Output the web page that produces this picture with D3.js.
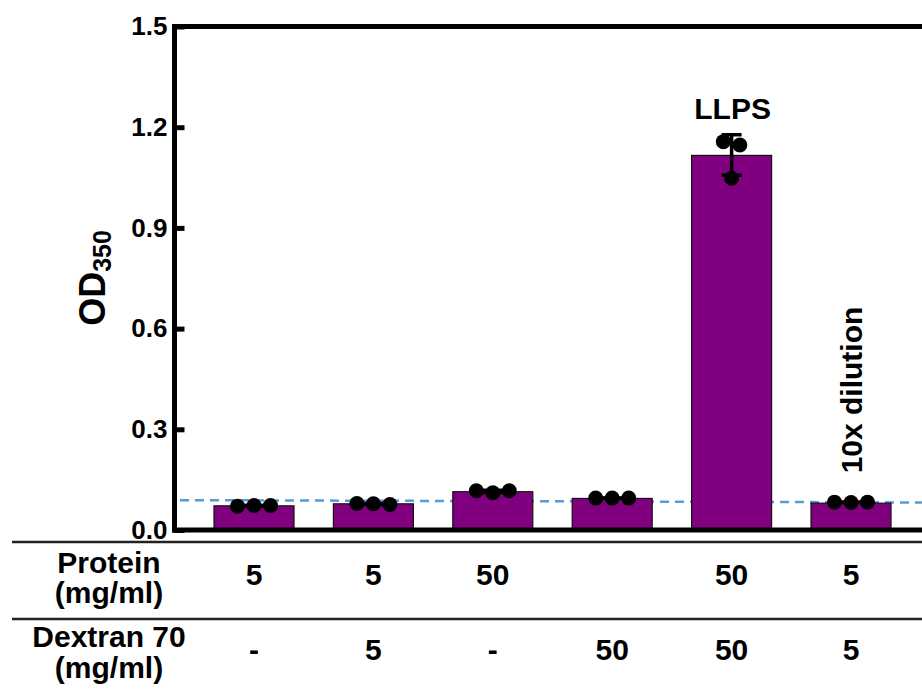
<!DOCTYPE html>
<html>
<head>
<meta charset="utf-8">
<script src="https://cdn.jsdelivr.net/npm/d3@7"></script>
<style>
  html, body { margin: 0; padding: 0; background: #fff; }
  svg { display: block; font-family: "Liberation Sans", Arial, Helvetica, sans-serif; font-weight: bold; }
</style>
</head>
<body>
<svg id="chart" width="922" height="691"></svg>
<script>
// ---- data ----
const categories = ["A", "B", "C", "D", "E", "F"];
const barMeans = [0.072, 0.078, 0.114, 0.094, 1.116, 0.080];
const replicates = [
  [0.071, 0.073, 0.073],
  [0.079, 0.078, 0.076],
  [0.117, 0.111, 0.117],
  [0.095, 0.095, 0.095],
  [1.157, 1.147, 1.048],
  [0.083, 0.082, 0.083]
];
const proteinLabels = ["5", "5", "50", "", "50", "5"];
const dextranLabels = ["-", "5", "-", "50", "50", "5"];
const yTicks = [0, 0.3, 0.6, 0.9, 1.2, 1.5];
const baselineEnds = [0.089, 0.082];
const annotations = [
  { cat: "E", text: "LLPS", rotate: false },
  { cat: "F", text: "10x dilution", rotate: true }
];

// ---- layout ----
const svg = d3.select("#chart");
const W = 922;
const y = d3.scaleLinear().domain([0, 1.5]).range([530, 26.5]);
const x = d3.scaleBand().domain(categories).range([194.3, 910.7]).paddingInner(0.33).paddingOuter(0.165);
const axisX = 174.5;
const frameW = 5;

// dashed baseline
svg.append("line")
  .attr("x1", 180).attr("x2", W)
  .attr("y1", y(baselineEnds[0])).attr("y2", y(baselineEnds[1]))
  .attr("stroke", "#5b9bd5").attr("stroke-width", 2.5)
  .attr("stroke-dasharray", "9,6");

// bars
svg.append("g").selectAll("rect").data(categories).join("rect")
  .attr("x", d => x(d))
  .attr("width", x.bandwidth())
  .attr("y", (d, i) => y(barMeans[i]))
  .attr("height", (d, i) => y(0) - y(barMeans[i]))
  .attr("fill", "#800080")
  .attr("stroke", "#111")
  .attr("stroke-width", 1.2);

// error bars (mean ± SD)
const eg = svg.append("g");
categories.forEach((c, i) => {
  const vals = replicates[i];
  const m = d3.mean(vals), s = d3.deviation(vals);
  const cx = x(c) + x.bandwidth() / 2;
  eg.append("line").attr("x1", cx).attr("x2", cx).attr("y1", y(m + s)).attr("y2", y(m - s))
    .attr("stroke", "#000").attr("stroke-width", 3.5);
  [m + s, m - s].forEach(v => {
    eg.append("line").attr("x1", cx - 10).attr("x2", cx + 10).attr("y1", y(v)).attr("y2", y(v))
      .attr("stroke", "#000").attr("stroke-width", 3.5);
  });
});

// replicate dots (spread overlapping points)
const r = 7.5, spacing = 16.5;
const dg = svg.append("g");
categories.forEach((c, i) => {
  const vals = replicates[i];
  const cx = x(c) + x.bandwidth() / 2;
  // cluster overlapping points
  const clusters = [];
  vals.forEach((v, j) => {
    const cl = clusters.find(g => g.some(k => Math.abs(y(vals[k]) - y(v)) < 2 * r));
    if (cl) cl.push(j); else clusters.push([j]);
  });
  clusters.forEach(g => {
    g.forEach((j, n) => {
      const off = (n - (g.length - 1) / 2) * spacing;
      dg.append("circle").attr("cx", cx + off).attr("cy", y(vals[j])).attr("r", r).attr("fill", "#000");
    });
  });
});

// y axis ticks + labels
const yAxis = d3.axisLeft(y).tickValues(yTicks).tickFormat(d3.format(".1f"))
  .tickSizeInner(-10).tickSizeOuter(0).tickPadding(7);
const ag = svg.append("g").attr("transform", `translate(${axisX},0)`).call(yAxis);
ag.select(".domain").remove();
ag.selectAll(".tick line").attr("stroke", "#000").attr("stroke-width", 5);
ag.selectAll(".tick text").attr("font-size", 26).attr("font-family", "Liberation Sans, Arial, sans-serif")
  .attr("font-weight", "bold").attr("fill", "#000");

// frame lines
svg.append("line").attr("x1", axisX).attr("x2", axisX).attr("y1", 24).attr("y2", 532.5)
  .attr("stroke", "#000").attr("stroke-width", frameW);
svg.append("line").attr("x1", 172).attr("x2", W).attr("y1", 26.5).attr("y2", 26.5)
  .attr("stroke", "#000").attr("stroke-width", frameW);
svg.append("line").attr("x1", 172).attr("x2", W).attr("y1", y(0)).attr("y2", y(0))
  .attr("stroke", "#000").attr("stroke-width", frameW);

// y label
const yl = svg.append("text")
  .attr("transform", "translate(105,278) rotate(-90)")
  .attr("text-anchor", "middle").attr("font-size", 36).attr("fill", "#000");
yl.append("tspan").text("OD");
yl.append("tspan").attr("font-size", 25).attr("dy", 6).text("350");

// annotations
annotations.forEach(a => {
  const cx = x(a.cat) + x.bandwidth() / 2;
  if (!a.rotate) {
    svg.append("text").attr("x", cx + 1).attr("y", 119).attr("text-anchor", "middle")
      .attr("font-size", 30).attr("fill", "#000").text(a.text);
  } else {
    svg.append("text").attr("transform", `translate(${cx + 11},390) rotate(-90)`)
      .attr("text-anchor", "middle").attr("font-size", 30).attr("fill", "#000").text(a.text);
  }
});

// table
[542, 619].forEach(ly => {
  svg.append("line").attr("x1", 12).attr("x2", W).attr("y1", ly).attr("y2", ly)
    .attr("stroke", "#222").attr("stroke-width", 2.5);
});
const labelX = 109;
[["Protein", 573], ["(mg/ml)", 603], ["Dextran 70", 647], ["(mg/ml)", 678]].forEach(([t, ty]) => {
  svg.append("text").attr("x", labelX).attr("y", ty).attr("text-anchor", "middle")
    .attr("font-size", 30).attr("fill", "#000").text(t);
});
svg.append("g").selectAll("text").data(categories).join("text")
  .attr("x", d => x(d) + x.bandwidth() / 2).attr("y", 585).attr("text-anchor", "middle")
  .attr("font-size", 30).attr("fill", "#000").text((d, i) => proteinLabels[i]);
svg.append("g").selectAll("text").data(categories).join("text")
  .attr("x", d => x(d) + x.bandwidth() / 2).attr("y", 660).attr("text-anchor", "middle")
  .attr("font-size", 30).attr("fill", "#000").text((d, i) => dextranLabels[i]);
</script>
</body>
</html>
